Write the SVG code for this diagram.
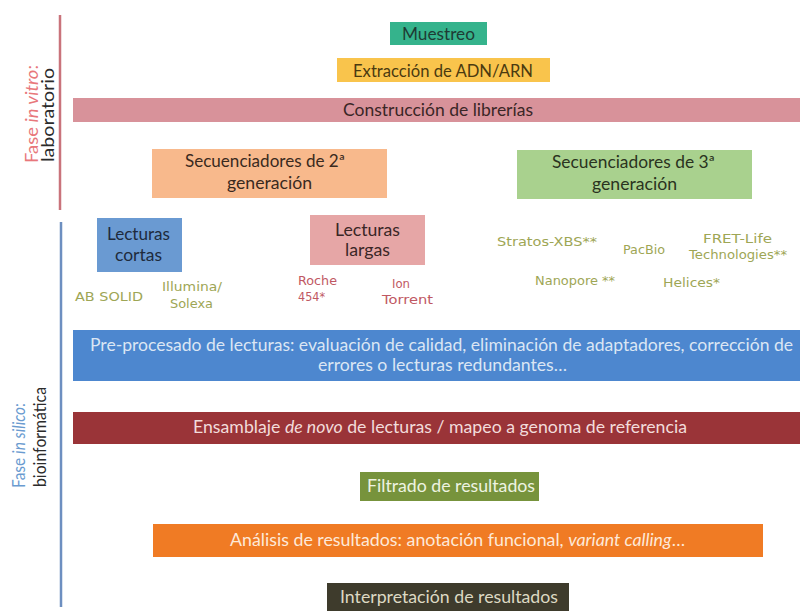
<svg xmlns="http://www.w3.org/2000/svg" width="800" height="611" viewBox="0 0 800 611">
<style>
.t{font-family:Lato,"Open Sans","Liberation Sans",sans-serif;font-size:17px;text-anchor:middle}
.s{font-family:"DejaVu Sans","Liberation Sans",sans-serif;font-size:12.5px;text-anchor:middle}
.ol{fill:#9ea655}
.rd{fill:#bf5863}
.side{font-family:Lato,"Liberation Sans",sans-serif;font-size:17px;text-anchor:start}
</style>
<rect width="800" height="611" fill="#ffffff"/>
<g id="phase-lines">
<line x1="60" y1="15" x2="60" y2="210" stroke="#c9737b" stroke-width="2.5"/>
<line x1="61" y1="222" x2="61" y2="607" stroke="#6d8fc0" stroke-width="2.5"/>
</g>
<g id="label-vitro">
<text class="side" transform="translate(38,163) rotate(-90)" fill="#e8777b" textLength="98" lengthAdjust="spacingAndGlyphs">Fase <tspan font-style="italic">in vitro</tspan>:</text>
<text class="side" transform="translate(54,162) rotate(-90)" fill="#2b2b2b" textLength="94" lengthAdjust="spacingAndGlyphs">laboratorio</text>
</g>
<g id="label-silico">
<text class="side" transform="translate(25,488) rotate(-90)" fill="#6a9bd0" textLength="85" lengthAdjust="spacingAndGlyphs">Fase <tspan font-style="italic">in silico</tspan>:</text>
<text class="side" transform="translate(46,487) rotate(-90)" fill="#2b2b2b" textLength="100" lengthAdjust="spacingAndGlyphs">bioinformática</text>
</g>
<g id="muestreo">
<rect x="390" y="22" width="97" height="23" fill="#35b38c"/>
<text class="t" x="438.5" y="40" fill="#1e3b34" textLength="73" lengthAdjust="spacingAndGlyphs">Muestreo</text>
</g>
<g id="extraccion">
<rect x="337" y="58" width="213" height="24" fill="#f9c44c"/>
<text class="t" x="443" y="77" fill="#4a3a10" textLength="180" lengthAdjust="spacingAndGlyphs">Extracción de ADN/ARN</text>
</g>
<g id="construccion">
<rect x="73" y="98" width="727" height="24" fill="#d8929a"/>
<text class="t" x="438" y="116" fill="#3a2626" textLength="190" lengthAdjust="spacingAndGlyphs">Construcción de librerías</text>
</g>
<g id="sec2">
<rect x="152" y="149" width="235" height="49" fill="#f8b98c"/>
<text class="t" x="265" y="167" fill="#3a2a1e" textLength="160" lengthAdjust="spacingAndGlyphs">Secuenciadores de 2ª</text>
<text class="t" x="269.5" y="189" fill="#3a2a1e" textLength="85" lengthAdjust="spacingAndGlyphs">generación</text>
</g>
<g id="sec3">
<rect x="517" y="150" width="235" height="49" fill="#a9d18e"/>
<text class="t" x="633.5" y="168" fill="#2a3320" textLength="163" lengthAdjust="spacingAndGlyphs">Secuenciadores de 3ª</text>
<text class="t" x="634.5" y="190" fill="#2a3320" textLength="85" lengthAdjust="spacingAndGlyphs">generación</text>
</g>
<g id="cortas">
<rect x="97" y="218" width="85" height="54" fill="#6a9ad2"/>
<text class="t" x="138.5" y="240" fill="#1e2b3d" textLength="63" lengthAdjust="spacingAndGlyphs">Lecturas</text>
<text class="t" x="138.5" y="261" fill="#1e2b3d" textLength="47" lengthAdjust="spacingAndGlyphs">cortas</text>
</g>
<g id="largas">
<rect x="310" y="215" width="115" height="50" fill="#e6a6a6"/>
<text class="t" x="367.5" y="236" fill="#3a2626" textLength="65" lengthAdjust="spacingAndGlyphs">Lecturas</text>
<text class="t" x="367.5" y="256" fill="#3a2626" textLength="45" lengthAdjust="spacingAndGlyphs">largas</text>
</g>
<g id="platforms">
<text class="s ol" x="109" y="301" textLength="68" lengthAdjust="spacingAndGlyphs">AB SOLID</text>
<text class="s ol" x="192" y="291" textLength="60" lengthAdjust="spacingAndGlyphs">Illumina/</text>
<text class="s ol" x="191.5" y="308" textLength="43" lengthAdjust="spacingAndGlyphs">Solexa</text>
<text class="s rd" x="317.5" y="285" textLength="39" lengthAdjust="spacingAndGlyphs">Roche</text>
<text class="s rd" x="311.5" y="301" textLength="27" lengthAdjust="spacingAndGlyphs">454*</text>
<text class="s rd" x="401" y="288" textLength="18" lengthAdjust="spacingAndGlyphs">Ion</text>
<text class="s rd" x="407.5" y="304" textLength="51" lengthAdjust="spacingAndGlyphs">Torrent</text>
<text class="s ol" x="547" y="246" textLength="100" lengthAdjust="spacingAndGlyphs">Stratos-XBS**</text>
<text class="s ol" x="644" y="254" textLength="42" lengthAdjust="spacingAndGlyphs">PacBio</text>
<text class="s ol" x="737.5" y="243" textLength="69" lengthAdjust="spacingAndGlyphs">FRET-Life</text>
<text class="s ol" x="738" y="259" textLength="98" lengthAdjust="spacingAndGlyphs">Technologies**</text>
<text class="s ol" x="575" y="285" textLength="80" lengthAdjust="spacingAndGlyphs">Nanopore **</text>
<text class="s ol" x="691.5" y="287" textLength="57" lengthAdjust="spacingAndGlyphs">Helices*</text>
</g>
<g id="preprocesado">
<rect x="73" y="330" width="727" height="51" fill="#4d87cf"/>
<text class="t" x="441.5" y="351" fill="#dbe6f4" textLength="703" lengthAdjust="spacingAndGlyphs">Pre-procesado de lecturas: evaluación de calidad, eliminación de adaptadores, corrección de</text>
<text class="t" x="442.5" y="371" fill="#dbe6f4" textLength="249" lengthAdjust="spacingAndGlyphs">errores o lecturas redundantes…</text>
</g>
<g id="ensamblaje">
<rect x="73" y="412" width="727" height="32" fill="#9a3438"/>
<text class="t" x="440" y="433" fill="#f2dcdb" textLength="494" lengthAdjust="spacingAndGlyphs">Ensamblaje <tspan font-style="italic">de novo</tspan> de lecturas / mapeo a genoma de referencia</text>
</g>
<g id="filtrado">
<rect x="360" y="472" width="179" height="29" fill="#77933c"/>
<text class="t" x="451" y="492" fill="#eef3e2" textLength="168" lengthAdjust="spacingAndGlyphs">Filtrado de resultados</text>
</g>
<g id="analisis">
<rect x="153" y="524" width="610" height="33" fill="#f07b24"/>
<text class="t" x="457.5" y="546" fill="#fde9d9" textLength="455" lengthAdjust="spacingAndGlyphs">Análisis de resultados: anotación funcional, <tspan font-style="italic">variant calling</tspan>…</text>
</g>
<g id="interpretacion">
<rect x="327" y="583" width="242" height="28" fill="#3e3b2c"/>
<text class="t" x="449" y="603" fill="#ddd9c3" textLength="218" lengthAdjust="spacingAndGlyphs">Interpretación de resultados</text>
</g>
</svg>
